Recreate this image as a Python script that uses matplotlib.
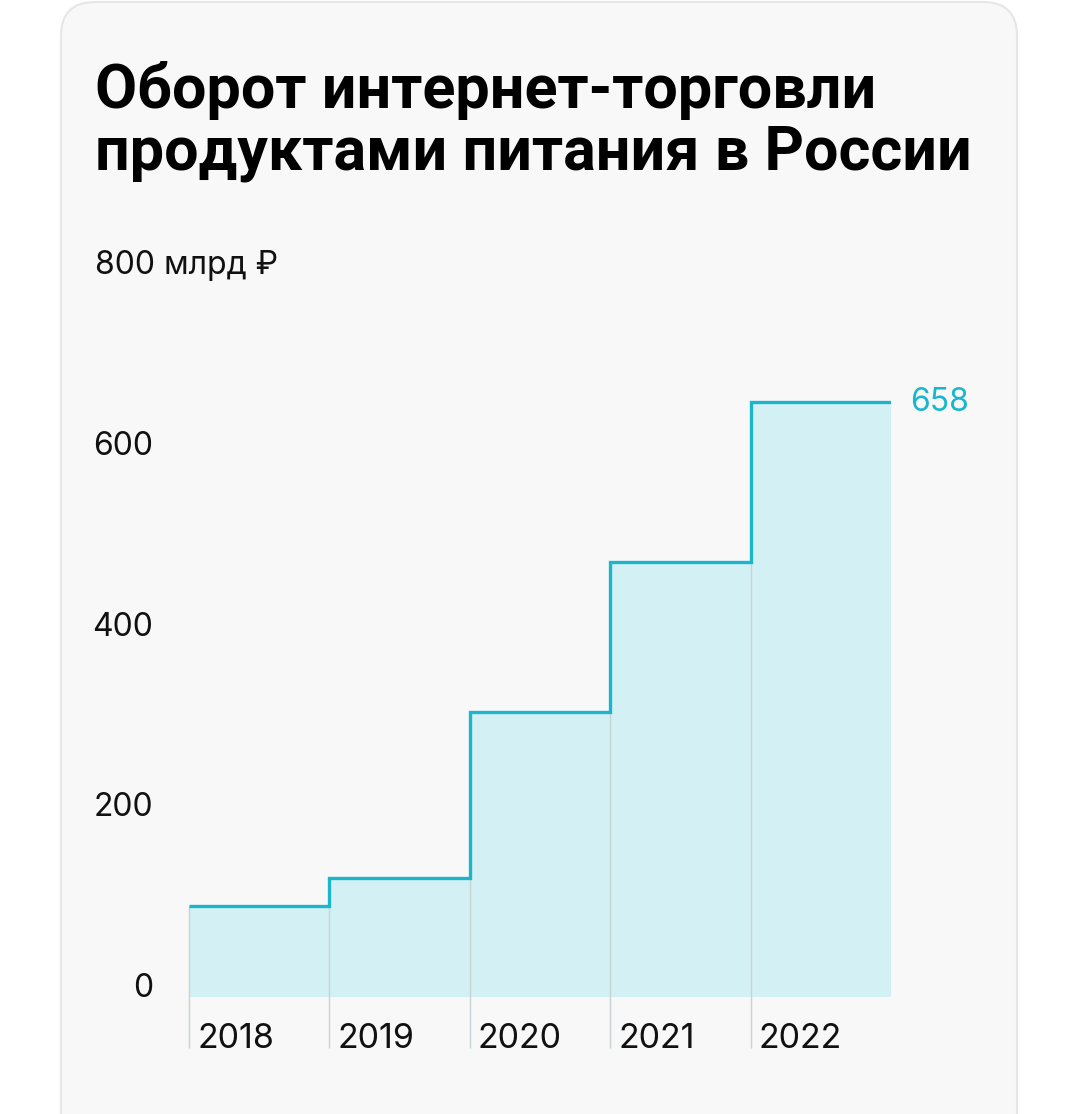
import matplotlib
matplotlib.use("Agg")
import matplotlib.pyplot as plt
from matplotlib.patches import FancyBboxPatch
from matplotlib.transforms import blended_transform_factory

# ---- data ----
years = ["2018", "2019", "2020", "2021", "2022"]
values = [101, 132, 315, 481, 658]
ytick_values = [0, 200, 400, 600, 800]
ytick_labels = ["0", "200", "400", "600", "800 млрд ₽"]
title_lines = ["Оборот интернет-торговли", "продуктами питания в России"]
last_label = "658"

W, H = 1079, 1114
DPI = 100
LINE = "#19b6cc"
FILL = "#d3f0f4"
CARD = "#f8f8f8"
EDGE = "#e6e6e6"
FONT = "Inter"
TFONT = "Roboto"

fig = plt.figure(figsize=(W / DPI, H / DPI), dpi=DPI)
fig.patch.set_facecolor("white")

# card
card = FancyBboxPatch((61, -60), 956, 1172, boxstyle="round,pad=0,rounding_size=34",
                      transform=None, facecolor=CARD, edgecolor=EDGE, linewidth=1.5, zorder=0)
fig.add_artist(card)

def fx(px):
    return px / W

def fy(py):
    return 1 - py / H

# axes: x from 189 to 891 px, y 0 at 997 px, 800 at 274 px
ax = fig.add_axes([fx(189), fy(997), fx(891) - fx(189), fy(274) - fy(997)])
ax.set_facecolor("none")
ax.set_xlim(0, len(years))
ax.set_ylim(0, 800)
for s in ax.spines.values():
    s.set_visible(False)
ax.set_xticks([])
ax.set_yticks([])

edges = list(range(len(years) + 1))
ax.stairs(values, edges, fill=True, color=FILL, linewidth=0, zorder=1)

# dividers going below the baseline
px_per_unit = (997 - 274) / 800
ylow = -51 / px_per_unit
ax.vlines(edges[:-1], ylow, values, colors="#c9d2d4", linewidth=1.0, clip_on=False, zorder=2)

ax.stairs(values, edges, baseline=None, color=LINE, linewidth=2.4, zorder=3)

# y labels
btr = blended_transform_factory(fig.transFigure, ax.transData)
for v, lab in zip(ytick_values, ytick_labels):
    if lab.startswith("800"):
        ax.text(fx(95), v, lab, transform=btr, ha="left", va="baseline",
                fontsize=23, family=[FONT, "DejaVu Sans"], color="#111111")
    else:
        ax.text(fx(153), v, lab, transform=btr, ha="right", va="baseline",
                fontsize=23, family=FONT, color="#111111")

# year labels
for i, yr in enumerate(years):
    ax.annotate(yr, xy=(i, 0), xytext=(8, -51), textcoords="offset pixels",
                ha="left", va="baseline", fontsize=24.5, family=FONT, color="#111111",
                annotation_clip=False)

# last value label
ax.annotate(last_label, xy=(len(years), values[-1]), xytext=(19, 0), textcoords="offset pixels",
            ha="left", va="center", fontsize=23, family=FONT, color=LINE,
            annotation_clip=False)

# title
for line, base in zip(title_lines, [108, 170]):
    fig.text(fx(95), fy(base), line, ha="left", va="baseline", fontsize=44,
             fontweight="bold", family=TFONT, color="black")

fig.savefig("out.png", dpi=DPI, facecolor="white")
